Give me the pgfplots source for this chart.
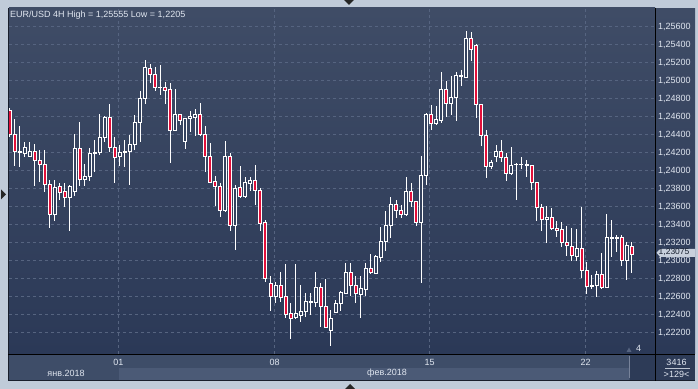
\documentclass[border=0pt]{standalone}
\usepackage{fontspec}
\setmainfont{Liberation Sans}
\usepackage{pgfplots}
\pgfplotsset{compat=1.18}
\usepackage{pgfplotstable}

\definecolor{framec}{RGB}{192,203,217}
\definecolor{borderc}{RGB}{24,30,44}
\definecolor{bgtop}{RGB}{63,76,102}
\definecolor{bgbot}{RGB}{43,57,87}
\definecolor{stripc}{RGB}{62,77,104}
\definecolor{stripl}{RGB}{75,90,118}
\definecolor{darkbox}{RGB}{45,59,87}
\definecolor{gridc}{RGB}{86,100,128}
\definecolor{labc}{RGB}{224,230,240}
\definecolor{cred}{RGB}{226,16,58}
\definecolor{hollow}{RGB}{52,66,94}
\definecolor{tagc}{RGB}{200,208,220}
\definecolor{tagtext}{RGB}{24,32,48}

\pgfplotstableread{
i o h l c
1 1.24666 1.24699 1.24377 1.24399
2 1.24399 1.24577 1.24054 1.24213
3 1.24202 1.24502 1.24046 1.24218
4 1.24195 1.24318 1.24158 1.24262
5 1.24162 1.24318 1.24154 1.24210
6 1.24210 1.24299 1.23832 1.24117
7 1.24117 1.24232 1.23879 1.24076
8 1.24076 1.24232 1.23768 1.23850
9 1.23850 1.23898 1.23361 1.23517
10 1.23517 1.23898 1.23442 1.23817
11 1.23828 1.23862 1.23676 1.23762
12 1.23773 1.23862 1.23601 1.23706
13 1.23706 1.23843 1.23334 1.23828
14 1.23773 1.24407 1.23720 1.24251
15 1.24251 1.24540 1.23835 1.23906
16 1.23906 1.24076 1.23828 1.23939
17 1.23939 1.24251 1.23891 1.24188
18 1.24188 1.24343 1.23991 1.24199
19 1.24199 1.24632 1.24176 1.24373
20 1.24373 1.24613 1.24318 1.24596
21 1.24596 1.24744 1.24213 1.24262
22 1.24262 1.24373 1.23868 1.24151
23 1.24162 1.24288 1.24054 1.24206
24 1.24206 1.24343 1.24046 1.24218
25 1.24218 1.24399 1.23843 1.24288
26 1.24295 1.24621 1.24232 1.24540
27 1.24540 1.24888 1.24318 1.24807
28 1.24807 1.25233 1.24744 1.25152
29 1.25141 1.25185 1.24981 1.25074
30 1.25074 1.25152 1.24892 1.24929
31 1.24922 1.25177 1.24844 1.24929
32 1.24929 1.24985 1.24744 1.24896
33 1.24910 1.24974 1.24091 1.24447
34 1.24447 1.24910 1.24443 1.24621
35 1.24621 1.24632 1.24510 1.24558
36 1.24324 1.24591 1.24243 1.24585
37 1.24585 1.24666 1.24436 1.24599
38 1.24596 1.24688 1.24391 1.24621
39 1.24621 1.24751 1.24391 1.24399
40 1.24407 1.24499 1.23991 1.24158
41 1.24165 1.24307 1.23860 1.23868
42 1.23876 1.23943 1.23613 1.23828
43 1.23828 1.23862 1.23490 1.23557
44 1.23557 1.24332 1.23546 1.24165
45 1.24165 1.24195 1.23334 1.23390
46 1.23390 1.23843 1.23120 1.23806
47 1.23817 1.24054 1.23702 1.23713
48 1.23713 1.23935 1.23702 1.23873
49 1.23862 1.23928 1.23776 1.23887
50 1.23887 1.24065 1.23620 1.23784
51 1.23784 1.23806 1.23334 1.23417
52 1.23428 1.23453 1.22767 1.22805
53 1.22749 1.22831 1.22445 1.22600
54 1.22600 1.22767 1.22527 1.22727
55 1.22727 1.22875 1.22545 1.22589
56 1.22597 1.22964 1.22360 1.22405
57 1.22416 1.22527 1.22127 1.22360
58 1.22367 1.22964 1.22349 1.22416
59 1.22389 1.22727 1.22322 1.22441
60 1.22441 1.22645 1.22378 1.22549
61 1.22538 1.22645 1.22397 1.22545
62 1.22541 1.22875 1.22489 1.22705
63 1.22705 1.22749 1.22267 1.22486
64 1.22486 1.22801 1.22249 1.22256
65 1.22222 1.22452 1.22052 1.22360
66 1.22423 1.22564 1.22416 1.22527
67 1.22527 1.22664 1.22445 1.22642
68 1.22634 1.22972 1.22627 1.22872
69 1.22872 1.22972 1.22608 1.22727
70 1.22727 1.22831 1.22534 1.22638
71 1.22627 1.22831 1.22360 1.22686
72 1.22683 1.22972 1.22608 1.22916
73 1.22916 1.23075 1.22853 1.22872
74 1.22861 1.23060 1.22850 1.23050
75 1.23039 1.23379 1.22990 1.23209
76 1.23209 1.23554 1.23112 1.23395
77 1.23395 1.23709 1.23259 1.23628
78 1.23628 1.23676 1.23472 1.23557
79 1.23557 1.23620 1.23472 1.23517
80 1.23509 1.23932 1.23501 1.23773
81 1.23773 1.23865 1.23601 1.23657
82 1.23657 1.23668 1.23390 1.23423
83 1.23423 1.24165 1.22756 1.23951
84 1.23951 1.24640 1.23843 1.24629
85 1.24632 1.24729 1.24454 1.24529
86 1.24529 1.24721 1.24510 1.24566
87 1.24555 1.25100 1.24532 1.24907
88 1.24907 1.24999 1.24602 1.24751
89 1.24751 1.25055 1.24621 1.24821
90 1.24818 1.25100 1.24558 1.25055
91 1.25044 1.25122 1.24944 1.25055
92 1.25041 1.25555 1.25035 1.25474
93 1.25474 1.25541 1.25225 1.25344
94 1.25389 1.25408 1.24591 1.24740
95 1.24740 1.24745 1.24276 1.24395
96 1.24395 1.24454 1.23924 1.24046
97 1.24046 1.24121 1.24021 1.24091
98 1.24158 1.24284 1.24102 1.24213
99 1.24213 1.24343 1.24102 1.24149
100 1.24151 1.24195 1.23887 1.23971
101 1.23971 1.24265 1.23954 1.24062
102 1.24068 1.24093 1.23676 1.24076
103 1.24068 1.24151 1.24021 1.24076
104 1.24062 1.24117 1.23935 1.24068
105 1.24062 1.24065 1.23787 1.23873
106 1.23873 1.23879 1.23446 1.23595
107 1.23595 1.23631 1.23334 1.23461
108 1.23461 1.23609 1.23194 1.23484
109 1.23484 1.23584 1.23342 1.23361
110 1.23361 1.23446 1.23261 1.23339
111 1.23350 1.23435 1.23156 1.23205
112 1.23205 1.23383 1.23053 1.23173
113 1.23164 1.23361 1.23001 1.23056
114 1.23045 1.23350 1.23001 1.23139
115 1.23139 1.23601 1.22805 1.22890
116 1.22890 1.22990 1.22630 1.22712
117 1.22712 1.22842 1.22683 1.22720
118 1.22723 1.22890 1.22594 1.22842
119 1.22850 1.23083 1.22683 1.22701
120 1.22701 1.23520 1.22695 1.23261
121 1.23250 1.23453 1.23045 1.23260
122 1.23253 1.23287 1.23101 1.23261
123 1.23261 1.23287 1.22942 1.23001
124 1.23001 1.23212 1.22786 1.23175
125 1.23164 1.23212 1.22867 1.23075
}\candles

\pgfplotsset{
  basechart/.style={
    at={(9bp,35bp)}, anchor=south west,
    width=646bp, height=346bp, scale only axis,
    xmin=0.9, xmax=129.6, ymin=1.21963, ymax=1.25811,
  }
}

\begin{document}
\begin{tikzpicture}
% outer frame
\fill[framec] (0bp,0bp) rectangle (698bp,389bp);
\fill[borderc] (8bp,8bp) rectangle (695bp,381bp);
% right price panel
\shade[top color=bgtop, bottom color=bgbot] (656bp,35bp) rectangle (695bp,380bp);
% bottom time strip
\fill[stripc] (9bp,9bp) rectangle (655bp,34bp);
\fill[stripl] (118.5bp,9bp) rectangle (629bp,21bp);
\fill[darkbox] (630bp,9bp) rectangle (655bp,34bp);
\draw[gridc!80!white, line width=1bp] (629.5bp,11bp) -- (629.5bp,33bp);
% corner panel
\fill[darkbox] (656bp,9bp) rectangle (695bp,34bp);

\begin{axis}[basechart,
  axis background/.style={shade, top color=bgtop, bottom color=bgbot},
  axis line style={draw=none},
  tick style={draw=none},
  ytick={1.222,1.224,1.226,1.228,1.230,1.232,1.234,1.236,1.238,1.240,1.242,1.244,1.246,1.248,1.250,1.252,1.254,1.256},
  yticklabels={{1,22200},{1,22400},{1,22600},{1,22800},{1,23000},{1,23200},{1,23400},{1,23600},{1,23800},{1,24000},{1,24200},{1,24400},{1,24600},{1,24800},{1,25000},{1,25200},{1,25400},{1,25600}},
  yticklabel pos=right,
  xtick={22.7,53.8,84.7,115.8},
  xticklabels={01,08,15,22},
  xmajorgrids, ymajorgrids,
  grid style={gridc, line width=1bp, dash pattern=on 3bp off 3bp},
  tick label style={font=\fontsize{9bp}{10bp}\selectfont, text=labc},
  yticklabel style={anchor=west, inner sep=0pt, xshift=3bp},
  xticklabel style={anchor=north, inner sep=0pt, yshift=-5bp},
]
\addplot[draw=none, mark=none,
  error bars/.cd, y dir=both, y explicit, error mark=none,
  error bar style={draw=white, line width=1bp}]
  table[x=i, y expr={(\thisrow{h}+\thisrow{l})/2}, y error expr={(\thisrow{h}-\thisrow{l})/2}] {\candles};
\end{axis}

\begin{axis}[basechart, hide axis, ybar stacked, bar width=3bp]
\addplot[draw=none, fill=none] table[x=i, y expr={min(\thisrow{o},\thisrow{c})}] {\candles};
\addplot[draw=white, fill=hollow, line width=1bp] table[x=i, y expr={max(\thisrow{c}-\thisrow{o},0)}] {\candles};
\addplot[draw=white, fill=cred, line width=1bp] table[x=i, y expr={max(\thisrow{o}-\thisrow{c},0)}] {\candles};
\end{axis}

% separator lines
\draw[black, line width=1bp] (655.5bp,8bp) -- (655.5bp,381bp);
\draw[black, line width=1bp] (8bp,34.5bp) -- (695bp,34.5bp);

% title
\node[anchor=west, inner sep=0pt, text=labc, font=\fontsize{9bp}{10bp}\selectfont] at (10bp,374bp) {EUR/USD 4H High = 1,25555 Low = 1,2205};

% month labels
\node[inner sep=0pt, text=labc, font=\fontsize{9bp}{10bp}\selectfont] at (66bp,15.5bp) {янв.2018};
\node[inner sep=0pt, text=labc, font=\fontsize{9bp}{10bp}\selectfont] at (387bp,15.5bp) {фев.2018};

% scroll indicator
\fill[gridc] (626.5bp,37bp) -- (631.5bp,37bp) -- (629bp,41.5bp) -- cycle;
\node[inner sep=0pt, text=labc, font=\fontsize{9bp}{10bp}\selectfont] at (638.5bp,40.5bp) {4};

% corner panel texts
\node[inner sep=0pt, text=labc, font=\fontsize{9bp}{10bp}\selectfont] at (676.5bp,27bp) {3416};
\draw[labc!80!darkbox, line width=0.8bp] (665bp,20.5bp) -- (690bp,20.5bp);
\node[inner sep=0pt, text=labc, font=\fontsize{9bp}{10bp}\selectfont] at (676.5bp,14.5bp) {>129<};

% last price tag
\fill[tagc] (656.5bp,136.2bp) -- (660bp,140.2bp) -- (695bp,140.2bp) -- (695bp,132.2bp) -- (660bp,132.2bp) -- cycle;
\node[anchor=west, inner sep=0pt, text=tagtext, font=\fontsize{8.5bp}{9bp}\selectfont] at (658.5bp,136.6bp) {1,23075};

% navigation triangles
\fill[black!85] (1bp,199.7bp) -- (6bp,194.7bp) -- (1bp,189.7bp) -- cycle;
\fill[black!85] (344bp,389bp) -- (354bp,389bp) -- (349bp,384bp) -- cycle;
\fill[black!85] (345bp,0bp) -- (355bp,0bp) -- (350bp,5bp) -- cycle;
\end{tikzpicture}
\end{document}
